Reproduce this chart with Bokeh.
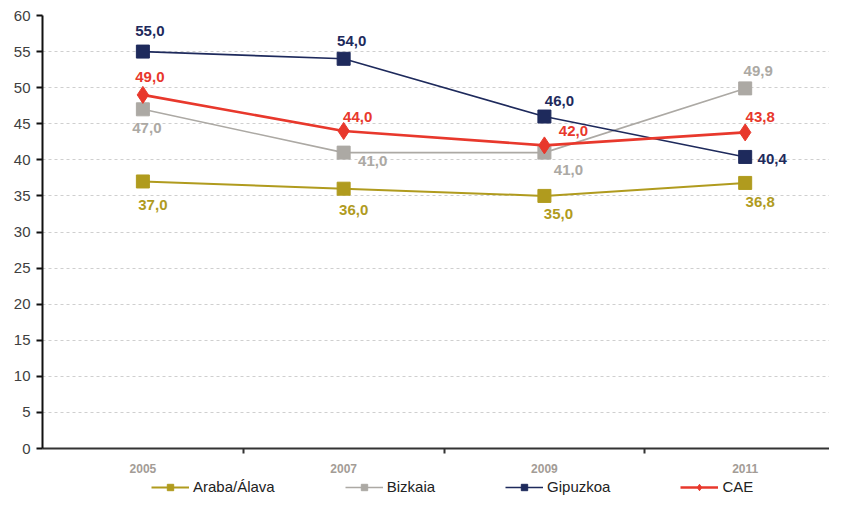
from bokeh.plotting import figure
from bokeh.layouts import column
from bokeh.models import (ColumnDataSource, LabelSet, Range1d, FixedTicker,
                          SingleIntervalTicker, Legend, LegendItem)
from bokeh.core.properties import value
from bokeh.embed import file_html
from bokeh.resources import INLINE

years = ["2005", "2007", "2009", "2011"]
araba = [37.0, 36.0, 35.0, 36.8]
bizkaia = [47.0, 41.0, 41.0, 49.9]
gipuzkoa = [55.0, 54.0, 46.0, 40.4]
cae = [49.0, 44.0, 42.0, 43.8]

series = [
    ("Araba/Álava", araba, "#B09B1E", "square", 2.0, 13),
    ("Bizkaia", bizkaia, "#ACA9A4", "square", 1.6, 13),
    ("Gipuzkoa", gipuzkoa, "#1E2A5C", "square", 1.6, 13),
    ("CAE", cae, "#E8382C", "diamond", 2.6, 17),
]
# label offsets in screen pixels (dx, dy up-positive)
offsets = {
    "Araba/Álava": [(10, -24), (10, -21), (14, -18), (15, -19)],
    "Bizkaia": [(4, -19), (29, -8), (24, -17), (13, 17)],
    "Gipuzkoa": [(7, 21), (8, 18), (15, 16), (27, -2)],
    "CAE": [(7, 18), (14, 14), (29, 14), (15, 15)],
}

xs = [i + 0.5 for i in range(len(years))]
FONT = "Liberation Sans"

p = figure(frame_width=787, frame_height=433, output_backend="svg",
           toolbar_location=None,
           x_range=Range1d(0, 3.92), y_range=Range1d(0, 60),
           min_border_left=42, min_border_right=0, min_border_top=15,
           min_border_bottom=0)
p.outline_line_color = None
p.background_fill_color = "white"
p.xgrid.grid_line_color = None
p.ygrid.grid_line_color = "#cfcfcf"
p.ygrid.grid_line_dash = "3 3"
p.ygrid.grid_line_width = 1

p.yaxis.ticker = SingleIntervalTicker(interval=5)
p.yaxis.axis_line_color = "#111111"
p.yaxis.axis_line_width = 2
p.yaxis.major_tick_line_color = "#111111"
p.yaxis.major_tick_line_width = 2
p.yaxis.major_tick_out = 6
p.yaxis.major_tick_in = 0
p.yaxis.minor_tick_line_color = None
p.yaxis.major_label_text_font = FONT
p.yaxis.major_label_text_font_size = "15px"
p.yaxis.major_label_text_color = "#404040"
p.yaxis.major_label_standoff = 6

p.xaxis.ticker = FixedTicker(ticks=xs, minor_ticks=[1, 2, 3])
p.xaxis.major_label_overrides = {x: y for x, y in zip(xs, years)}
p.xaxis.axis_line_color = "#333333"
p.xaxis.axis_line_width = 2
p.xaxis.major_tick_line_color = None
p.xaxis.major_tick_out = 0
p.xaxis.major_tick_in = 0
p.xaxis.minor_tick_line_color = "#333333"
p.xaxis.minor_tick_line_width = 2
p.xaxis.minor_tick_out = 5
p.xaxis.minor_tick_in = 0
p.xaxis.major_label_text_font = FONT
p.xaxis.major_label_text_font_size = "12px"
p.xaxis.major_label_text_font_style = "bold"
p.xaxis.major_label_text_color = "#A39C96"
p.xaxis.major_label_standoff = 10

# separate strip for the legend below the chart
pl = figure(width=829, height=22, output_backend="svg", toolbar_location=None,
            x_range=Range1d(100, 101), y_range=Range1d(100, 101),
            min_border=0)
pl.axis.visible = False
pl.grid.visible = False
pl.outline_line_color = None

items = []
for name, vals, color, marker, lw, size in series:
    src = ColumnDataSource(dict(
        x=xs, y=vals,
        txt=[f"{v:.1f}".replace(".", ",") for v in vals],
        dx=[o[0] for o in offsets[name]],
        dy=[o[1] for o in offsets[name]],
    ))
    p.line("x", "y", source=src, line_color=color, line_width=lw)
    p.scatter("x", "y", source=src, marker=marker, size=size,
              fill_color=color, line_color=color)
    lab = LabelSet(x="x", y="y", text="txt", source=src,
                   x_offset="dx", y_offset="dy",
                   text_align="center", text_baseline="middle",
                   text_font=value(FONT), text_font_size="15px",
                   text_font_style="bold", text_color=color)
    p.add_layout(lab)
    l1 = pl.line("x", "y", source=src, line_color=color, line_width=lw)
    l2 = pl.scatter("x", "y", source=src, marker=marker,
                    size=9 if marker == "square" else 11,
                    fill_color=color, line_color=color)
    items.append(LegendItem(label=name, renderers=[l1, l2]))

legend = Legend(items=items, orientation="horizontal", location=(109, 2),
                glyph_width=38, glyph_height=16, label_height=16,
                label_standoff=4, spacing=70,
                padding=0, margin=0, border_line_color=None,
                background_fill_alpha=0,
                label_text_font=FONT, label_text_font_size="15px",
                label_text_color="#222222")
pl.add_layout(legend, "center")

layout = column(p, pl, spacing=0)
open("out.html", "w").write(file_html(layout, INLINE))
